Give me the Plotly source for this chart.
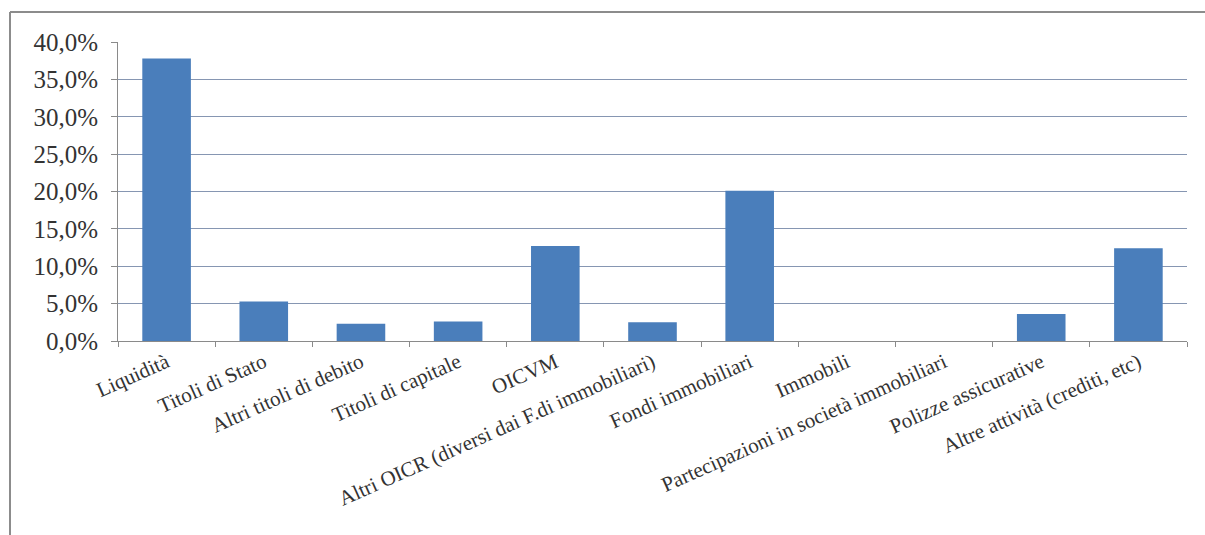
import plotly.graph_objects as go

# Asset allocation by category (share of total)
categories = [
    "Liquidità",
    "Titoli di Stato",
    "Altri titoli di debito",
    "Titoli di capitale",
    "OICVM",
    "Altri OICR (diversi dai F.di immobiliari)",
    "Fondi immobiliari",
    "Immobili",
    "Partecipazioni in società immobiliari",
    "Polizze assicurative",
    "Altre attività (crediti, etc)",
]
shares = [37.8, 5.3, 2.3, 2.6, 12.7, 2.5, 20.1, 0.0, 0.0, 3.6, 12.4]

y_ticks = [0, 5, 10, 15, 20, 25, 30, 35, 40]
y_tick_labels = ["0,0%", "5,0%", "10,0%", "15,0%", "20,0%", "25,0%", "30,0%", "35,0%", "40,0%"]

SERIF = "Liberation Serif"

W, H = 1205, 535
ML, MR, MT, MB = 118, 18, 42, 194
plot_w = W - ML - MR
plot_h = H - MT - MB

frame_left = (10 - ML) / plot_w
frame_top = (plot_h + MT - 12) / plot_h

fig = go.Figure(
    go.Bar(
        x=categories,
        y=shares,
        marker=dict(color="#4a7ebb", line=dict(width=0)),
        hoverinfo="x+y",
    )
)

fig.update_layout(
    width=W,
    height=H,
    margin=dict(l=ML, r=MR, t=MT, b=MB),
    paper_bgcolor="white",
    plot_bgcolor="white",
    bargap=0.5,
    showlegend=False,
    font=dict(family=SERIF, color="#333333"),
    shapes=[
        # outer chart frame: left and top edges
        dict(
            type="line", xref="paper", yref="paper",
            x0=frame_left, x1=frame_left,
            y0=frame_top, y1=-(MB + 20) / plot_h,
            line=dict(color="#8c8c8c", width=2), layer="below",
        ),
        dict(
            type="line", xref="paper", yref="paper",
            x0=frame_left, x1=(W + 20 - ML) / plot_w,
            y0=frame_top, y1=frame_top,
            line=dict(color="#8c8c8c", width=2), layer="below",
        ),
    ],
)

fig.update_xaxes(
    type="category",
    tickangle=-24,
    tickfont=dict(family=SERIF, size=21, color="#333333"),
    showline=True,
    linecolor="#8a8a8a",
    linewidth=1,
    ticks="outside",
    tickson="boundaries",
    ticklen=5,
    tickcolor="#8a8a8a",
    showgrid=False,
)

fig.update_yaxes(
    range=[0, 40],
    tickvals=y_ticks,
    ticktext=y_tick_labels,
    tickfont=dict(family=SERIF, size=25, color="#333333"),
    ticklabelstandoff=8,
    showline=True,
    linecolor="#8a8a8a",
    linewidth=1,
    ticks="outside",
    ticklen=6,
    tickcolor="#8a8a8a",
    showgrid=True,
    gridcolor="#8696b2",
    gridwidth=1,
    zeroline=False,
)

fig.write_html("out.html")
